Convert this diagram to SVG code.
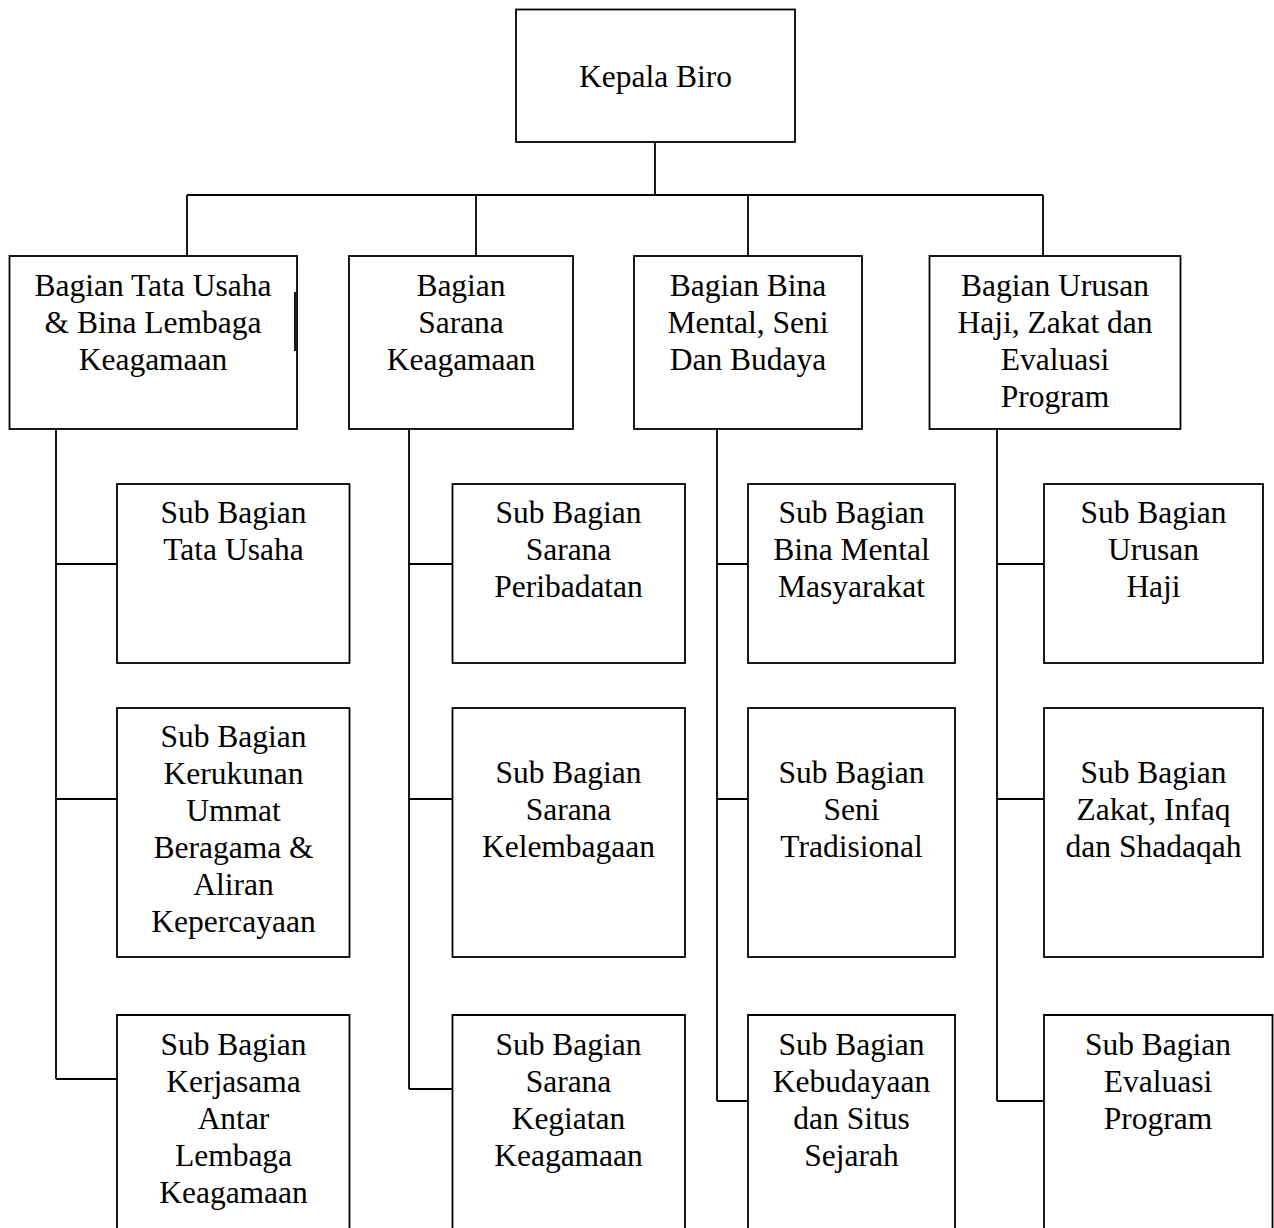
<svg xmlns="http://www.w3.org/2000/svg" width="1274" height="1228" viewBox="0 0 1274 1228">
<style>
.box{fill:#fff;stroke:#000;stroke-width:1.8}
.ln{fill:none;stroke:#000;stroke-width:1.8}
text{font-family:"Liberation Serif","Times New Roman",serif;font-size:31.5px;fill:#000;text-anchor:middle}
</style>
<rect width="1274" height="1228" fill="#fff"/>
<g id="connectors" class="ln">
<path d="M655 142V195M187 195H1043M187 195V256M476 195V256M748 195V256M1043 195V256"/>
<path d="M56 429V1079M56 564H117M56 799H117M56 1079H117"/>
<path d="M409 429V1089M409 564H452M409 799H452M409 1089H452"/>
<path d="M717 429V1101M717 564H748M717 799H748M717 1101H748"/>
<path d="M997 429V1101M997 564H1044M997 799H1044M997 1101H1044"/>
</g>
<g id="kepala">
<rect class="box" x="516" y="9.5" width="279" height="132.5"/>
<text x="655.5" y="87">Kepala Biro</text>
</g>
<g id="bagian-tu">
<rect class="box" x="9.5" y="256" width="287.5" height="173"/>
<line class="ln" x1="295" y1="292" x2="295" y2="351" stroke-width="2.5"/>
<text x="153" y="296">Bagian Tata Usaha</text>
<text x="153" y="333">&amp; Bina Lembaga</text>
<text x="153" y="370">Keagamaan</text>
</g>
<g id="bagian-sarana">
<rect class="box" x="349" y="256" width="224" height="173"/>
<text x="461" y="296">Bagian</text>
<text x="461" y="333">Sarana</text>
<text x="461" y="370">Keagamaan</text>
</g>
<g id="bagian-bina">
<rect class="box" x="634" y="256" width="228" height="173"/>
<text x="748" y="296">Bagian Bina</text>
<text x="748" y="333">Mental, Seni</text>
<text x="748" y="370">Dan Budaya</text>
</g>
<g id="bagian-haji">
<rect class="box" x="929.5" y="256" width="251" height="173"/>
<text x="1055" y="296">Bagian Urusan</text>
<text x="1055" y="333">Haji, Zakat dan</text>
<text x="1055" y="370">Evaluasi</text>
<text x="1055" y="407">Program</text>
</g>
<g id="sub-tata-usaha">
<rect class="box" x="117" y="484" width="232.5" height="179"/>
<text x="233.5" y="523">Sub Bagian</text>
<text x="233.5" y="560">Tata Usaha</text>
</g>
<g id="sub-kerukunan">
<rect class="box" x="117" y="708" width="232.5" height="249"/>
<text x="233.5" y="747">Sub Bagian</text>
<text x="233.5" y="784">Kerukunan</text>
<text x="233.5" y="821">Ummat</text>
<text x="233.5" y="858">Beragama &amp;</text>
<text x="233.5" y="895">Aliran</text>
<text x="233.5" y="932">Kepercayaan</text>
</g>
<g id="sub-kerjasama">
<path class="box" d="M117 1240V1015H349.5V1240"/>
<text x="233.5" y="1055">Sub Bagian</text>
<text x="233.5" y="1092">Kerjasama</text>
<text x="233.5" y="1129">Antar</text>
<text x="233.5" y="1166">Lembaga</text>
<text x="233.5" y="1203">Keagamaan</text>
</g>
<g id="sub-peribadatan">
<rect class="box" x="452.5" y="484" width="232.5" height="179"/>
<text x="568.5" y="523">Sub Bagian</text>
<text x="568.5" y="560">Sarana</text>
<text x="568.5" y="597">Peribadatan</text>
</g>
<g id="sub-kelembagaan">
<rect class="box" x="452.5" y="708" width="232.5" height="249"/>
<text x="568.5" y="783">Sub Bagian</text>
<text x="568.5" y="820">Sarana</text>
<text x="568.5" y="857">Kelembagaan</text>
</g>
<g id="sub-kegiatan">
<path class="box" d="M452.5 1240V1015H685V1240"/>
<text x="568.5" y="1055">Sub Bagian</text>
<text x="568.5" y="1092">Sarana</text>
<text x="568.5" y="1129">Kegiatan</text>
<text x="568.5" y="1166">Keagamaan</text>
</g>
<g id="sub-bina-mental">
<rect class="box" x="748" y="484" width="207" height="179"/>
<text x="851.5" y="523">Sub Bagian</text>
<text x="851.5" y="560">Bina Mental</text>
<text x="851.5" y="597">Masyarakat</text>
</g>
<g id="sub-seni">
<rect class="box" x="748" y="708" width="207" height="249"/>
<text x="851.5" y="783">Sub Bagian</text>
<text x="851.5" y="820">Seni</text>
<text x="851.5" y="857">Tradisional</text>
</g>
<g id="sub-kebudayaan">
<path class="box" d="M748 1240V1015H955V1240"/>
<text x="851.5" y="1055">Sub Bagian</text>
<text x="851.5" y="1092">Kebudayaan</text>
<text x="851.5" y="1129">dan Situs</text>
<text x="851.5" y="1166">Sejarah</text>
</g>
<g id="sub-haji">
<rect class="box" x="1044" y="484" width="219" height="179"/>
<text x="1153.5" y="523">Sub Bagian</text>
<text x="1153.5" y="560">Urusan</text>
<text x="1153.5" y="597">Haji</text>
</g>
<g id="sub-zakat">
<rect class="box" x="1044" y="708" width="219" height="249"/>
<text x="1153.5" y="783">Sub Bagian</text>
<text x="1153.5" y="820">Zakat, Infaq</text>
<text x="1153.5" y="857">dan Shadaqah</text>
</g>
<g id="sub-evaluasi">
<path class="box" d="M1044 1240V1015H1272.5V1240"/>
<text x="1158" y="1055">Sub Bagian</text>
<text x="1158" y="1092">Evaluasi</text>
<text x="1158" y="1129">Program</text>
</g>
</svg>
